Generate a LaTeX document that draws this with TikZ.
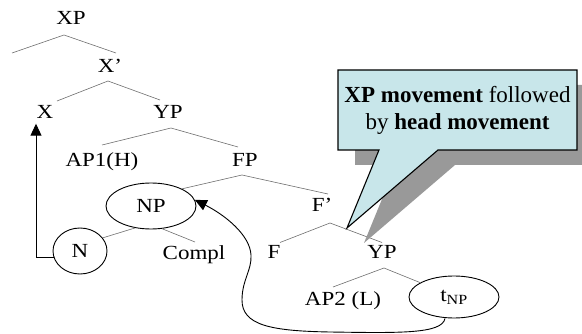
\documentclass[tikz,border=0pt]{standalone}
\usepackage{fontspec}
\setmainfont{Liberation Serif}
\newfontfamily\treefont{Liberation Serif}[FakeStretch=1.15]
\usetikzlibrary{shapes.geometric,arrows.meta,calc}
\definecolor{callfill}{HTML}{C8E6EA}
\definecolor{shadowgray}{HTML}{999999}
\definecolor{branch}{HTML}{6E6E6E}
\begin{document}
\begin{tikzpicture}[x=1pt,y=-1pt,
  lab/.style={inner sep=0pt,text height=13pt,text depth=0pt,font=\treefont\fontsize{20}{23}\selectfont},
  circ/.style={ellipse,draw=black,line width=0.9pt,inner sep=0pt,font=\treefont\fontsize{20}{23}\selectfont},
  branchline/.style={draw=branch,line width=0.6pt},
  move/.style={draw=black,line width=0.9pt,-{Triangle[length=12pt,width=11pt]}},
  callshape/.style={line width=1.1pt,draw=black,fill=callfill,line join=miter},
  shadowshape/.style={fill=shadowgray,draw=none}
]
\useasboundingbox (0,0) rectangle (582,334);

% tree labels
\node[lab] (XP) at (71,18) {XP};
\node[lab] (Xbar) at (110,66) {X’};
\node[lab] (X) at (45,112) {X};
\node[lab] (YP) at (168,112) {YP};
\node[lab] (AP1) at (102,160) {AP1(H)};
\node[lab] (FP) at (245,160) {FP};
\node[circ,minimum width=90pt,minimum height=46pt] (NP) at (151,206) {NP};
\node[circ,minimum width=54pt,minimum height=46pt] (N) at (80,251) {N};
\node[lab] (Compl) at (194,253) {Compl};
\node[lab] (Fbar) at (322,205) {F’};
\node[lab] (F) at (274,252.5) {F};
\node[lab] (YP2) at (382,252.5) {YP};
\node[lab] (AP2) at (343,299.5) {AP2 (L)};
\node[circ,minimum width=90pt,minimum height=42pt] (tNP) at (454,297) {t\textsubscript{NP}};
\coordinate (XPleft) at (12,53);

% branches
\draw[branchline] (XPleft) -- ($(XP)+(-7,17)$) -- ($(Xbar)+(6,-13)$);
\draw[branchline] ($(X)+(12,-11)$) -- ($(Xbar)+(-2,15)$) -- ($(YP)+(-8,-12)$);
\draw[branchline] ($(AP1)+(0,-15)$) -- ($(YP)+(3,16)$) -- ($(FP)+(-7,-13)$);
\draw[branchline] (NP.29) -- ($(FP)+(-3,15)$) -- ($(Fbar)+(6,-11)$);
\draw[branchline] (N.30) -- (NP.234);
\draw[branchline] (NP.296) -- ($(Compl)+(1,-11)$);
\draw[branchline] ($(F)+(6,-10)$) -- ($(Fbar)+(8,18)$) -- ($(YP2)+(0,-10)$);
\draw[branchline] ($(AP2)+(-10,-12.5)$) -- ($(YP2)+(2,15.5)$) -- (tNP.157);

% movement arrows
\draw[move] ($(N)+(-26,6)$) -| ($(X.south)+(-9,5)$);
\draw[move] ($(tNP.south)+(-9,0)$) .. controls (442,334) and (400,333) .. (330,332)
  .. controls (270,331) and (242,325) .. (242,300)
  .. controls (242,280) and (252,270) .. (251,255)
  .. controls (250,235) and (225,215) .. (NP.8);

% callout
\coordinate (boxnw) at (338,70);
\coordinate (boxne) at (577,70);
\coordinate (boxse) at (577,150);
\coordinate (boxsw) at (338,150);
\coordinate (baseR) at (438,150);
\coordinate (baseL) at (379,150);
\coordinate (tip) at (347,228);
\path[shadowshape,transform canvas={xshift=17pt,yshift=-15pt}]
  (boxnw) -- (boxne) -- (boxse) -- (baseR) -- (tip) -- (baseL) -- (boxsw) -- cycle;
\path[callshape] (boxnw) -- (boxne) -- (boxse) -- (baseR) -- (tip) -- (baseL) -- (boxsw) -- cycle;
\node[inner sep=0pt,align=center,font=\fontsize{23}{27}\selectfont] (note) at (457.5,110)
  {\textbf{XP movement} followed\\by \textbf{head movement}};
\end{tikzpicture}
\end{document}
